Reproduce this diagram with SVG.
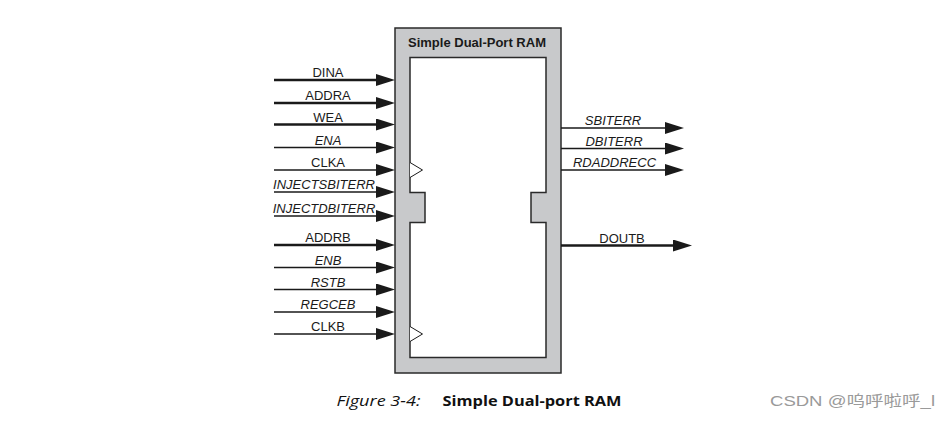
<svg xmlns="http://www.w3.org/2000/svg" width="950" height="421" viewBox="0 0 950 421">
<style>
.lbl{font-family:"Liberation Sans",Arial,sans-serif;font-size:13px;fill:#1a1a1a;text-anchor:middle}
.it{font-style:italic}
.bus{stroke:#1a1a1a;stroke-width:2.5;fill:none}
.sig{stroke:#1a1a1a;stroke-width:1.5;fill:none}
.clk{stroke:#1a1a1a;stroke-width:1;fill:#fff}
</style>
<defs>
<marker id="arr" markerUnits="userSpaceOnUse" markerWidth="19" markerHeight="12" refX="0" refY="6" orient="auto">
<path d="M0,0 L19,6 L0,12 Z" fill="#1a1a1a"/>
</marker>
</defs>
<rect width="950" height="421" fill="#fff"/>
<g id="ram">
<rect x="395" y="28" width="166" height="345" fill="#c8c9cb" stroke="#2a2a2a" stroke-width="1.5"/>
<path d="M410,57.5 H546 V192.5 H531 V222.5 H546 V357.5 H410 V222.5 H425 V192.5 H410 Z" fill="#fff" stroke="#2a2a2a" stroke-width="1.5"/>
<text x="477" y="47" font-family="Liberation Sans,Arial,sans-serif" font-size="13" font-weight="bold" fill="#1a1a1a" text-anchor="middle">Simple Dual-Port RAM</text>
<polyline class="clk" points="410,162.5 422.5,170 410,177.5"/>
<polyline class="clk" points="410,326.5 422.5,334 410,341.5"/>
</g>
<g id="connectors">
<line class="bus" x1="274" y1="80" x2="376" y2="80" marker-end="url(#arr)"/>
<line class="bus" x1="274" y1="103" x2="376" y2="103" marker-end="url(#arr)"/>
<line class="bus" x1="274" y1="124.5" x2="376" y2="124.5" marker-end="url(#arr)"/>
<line class="sig" x1="274" y1="147.5" x2="376" y2="147.5" marker-end="url(#arr)"/>
<line class="sig" x1="274" y1="170" x2="376" y2="170" marker-end="url(#arr)"/>
<line class="sig" x1="274" y1="192" x2="376" y2="192" marker-end="url(#arr)"/>
<line class="sig" x1="274" y1="216" x2="376" y2="216" marker-end="url(#arr)"/>
<line class="bus" x1="274" y1="245" x2="376" y2="245" marker-end="url(#arr)"/>
<line class="sig" x1="274" y1="267.5" x2="376" y2="267.5" marker-end="url(#arr)"/>
<line class="sig" x1="274" y1="289.5" x2="376" y2="289.5" marker-end="url(#arr)"/>
<line class="sig" x1="274" y1="312" x2="376" y2="312" marker-end="url(#arr)"/>
<line class="sig" x1="274" y1="334" x2="376" y2="334" marker-end="url(#arr)"/>
<line class="sig" x1="561" y1="128" x2="665" y2="128" marker-end="url(#arr)"/>
<line class="sig" x1="561" y1="148.5" x2="665" y2="148.5" marker-end="url(#arr)"/>
<line class="sig" x1="561" y1="170" x2="665" y2="170" marker-end="url(#arr)"/>
<line class="bus" x1="561" y1="245.5" x2="673" y2="245.5" marker-end="url(#arr)"/>
</g>
<g id="labels">
<text class="lbl" x="328" y="77">DINA</text>
<text class="lbl" x="328" y="100">ADDRA</text>
<text class="lbl" x="328" y="121.5">WEA</text>
<text class="lbl it" x="328" y="144.5">ENA</text>
<text class="lbl" x="328" y="167">CLKA</text>
<text class="lbl it" x="324" y="189">INJECTSBITERR</text>
<text class="lbl it" x="324" y="213">INJECTDBITERR</text>
<text class="lbl" x="328" y="242">ADDRB</text>
<text class="lbl it" x="328" y="264.5">ENB</text>
<text class="lbl it" x="328" y="286.5">RSTB</text>
<text class="lbl it" x="328" y="309">REGCEB</text>
<text class="lbl" x="328" y="331">CLKB</text>
<text class="lbl it" x="613" y="125">SBITERR</text>
<text class="lbl it" x="614" y="145.5">DBITERR</text>
<text class="lbl it" x="614.5" y="167">RDADDRECC</text>
<text class="lbl" x="622" y="242.5">DOUTB</text>
</g>
<g id="caption">
<text x="336.5" y="405.5" font-family="Open Sans,Noto Sans,sans-serif" font-size="14" font-style="italic" fill="#111" textLength="84" lengthAdjust="spacingAndGlyphs">Figure 3-4:</text>
<text x="442.5" y="405.5" font-family="Open Sans,Noto Sans,sans-serif" font-size="14" font-weight="bold" fill="#111" textLength="179" lengthAdjust="spacingAndGlyphs">Simple Dual-port RAM</text>
<text x="770" y="405.5" font-family="Liberation Sans,Noto Sans CJK SC,sans-serif" font-size="15" fill="#9a9a9a" textLength="165" lengthAdjust="spacingAndGlyphs">CSDN @呜呼啦呼_l</text>
</g>
</svg>
